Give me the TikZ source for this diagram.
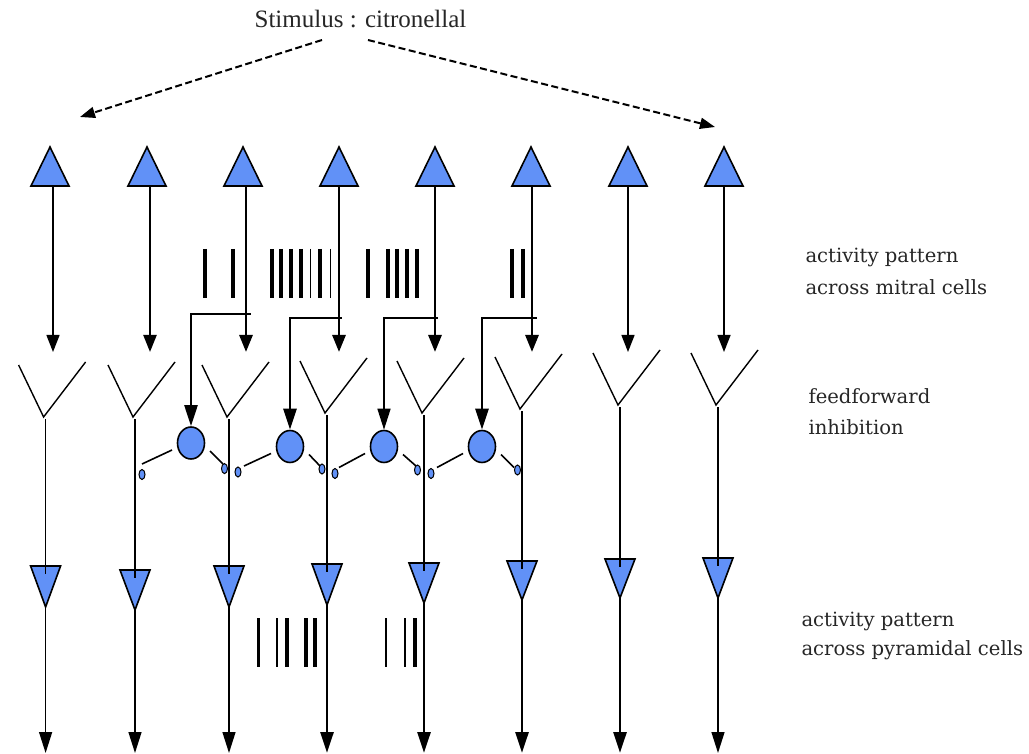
\documentclass[tikz,border=0pt]{standalone}
\usepackage{fontspec}
\setmainfont{DejaVu Serif}
\newfontfamily\stimfont{Liberation Serif}
\usetikzlibrary{arrows.meta,shapes.geometric,calc}
\definecolor{cellblue}{HTML}{6191F7}
\begin{document}
\begin{tikzpicture}[x=1pt,y=-1pt,
  arr/.style={-{Triangle[length=17pt,width=13pt]}},
  botarr/.style={-{Triangle[length=21pt,width=13pt]}},
  inarr/.style={-{Triangle[length=21pt,width=13pt]}},
  cellfill/.style={fill=cellblue,draw=black,line width=1.6pt,line join=miter},
  dend/.style={line width=1.4pt},
  spike/.style={line width=#1},
  dasharr/.style={line width=2pt,dash pattern=on 7pt off 3.5pt,-{Triangle[length=15pt,width=11pt]}},
  lbl/.style={anchor=base west,font=\fontsize{19.6}{20}\selectfont,text=black!85}]
\useasboundingbox (0,0) rectangle (1029,754);

% stimulus
\node[anchor=base,font=\stimfont\fontsize{25}{25}\selectfont,text=black!85,inner sep=0] (stim) at (360.5,28) {Stimulus : citronellal};
\coordinate (sl) at (322,40);
\coordinate (sr) at (368,40);
\coordinate (dl) at (80,117);
\coordinate (dr) at (715,127);
\draw[dasharr] (sl) -- (dl);
\draw[dasharr] (sr) -- (dr);

% mitral cells
\foreach \i/\tx/\sx/\w in {1/50/53/1.4, 2/147/150/2.3, 3/243/246/2.8, 4/339/339/2.8, 5/435/435/2.8, 6/531/532/2.8, 7/628/628/1.4, 8/724/724/1.4}{
  \coordinate (mt\i) at (\sx,186);
  \coordinate (ma\i) at (\sx,352);
  \draw[arr,line width=\w pt] (mt\i) -- (ma\i);
  \filldraw[cellfill] (\tx-19,186) -- (\tx,147) -- (\tx+19,186) -- cycle;
}

% mitral spike trains
\foreach \x/\w in {205/3.5, 233/3.5, 272/3.5, 281/3.5, 291/3.5, 301/3.5, 310.5/1.8, 320/3.5, 330.5/1.8, 368/3.5, 388/3.5, 397/3.5, 407/3.5, 417/3.5, 512/3.5, 523/3.5}{
  \draw[spike=\w pt] (\x,249) -- (\x,298);
}

% pyramidal cells with dendrites
\foreach \i/\px/\jy/\top/\apex/\w in {1/45.6/417/566/607/1.4, 2/135/417/570/610/1.4, 3/229/417/566/607/1.4, 4/327/413/564/605/2.8, 5/424/413/563/603/2.8, 6/522/409/561/600/2.8, 7/620/405/559/598/2.8, 8/718/405/558/598/1.4}{
  \coordinate (y\i) at (\px-2,\jy);
  \draw[dend] ($(y\i)+(-25,-52)$) -- (y\i) -- ($(y\i)+(42,-55)$);
  \coordinate (ys\i) at (\px,\jy+2);
  \coordinate (pt\i) at (\px,\top+8);
  \coordinate (pa\i) at (\px,\apex);
  \coordinate (pb\i) at (\px,753);
  \filldraw[cellfill] (\px-15,\top) -- (\px+15,\top) -- (pa\i) -- cycle;
  \draw[line width=\w pt] (ys\i) -- (pt\i);
  \draw[botarr,line width=\w pt] (pa\i) -- (pb\i);
}

% pyramidal spike trains
\foreach \x/\w in {258.6/3.5, 277/1.8, 287/3.5, 306/3.5, 315/3.5, 386/1.2, 405/1.8, 415/3.5}{
  \draw[spike=\w pt] (\x,618) -- (\x,667);
}

% interneurons (feedforward inhibition)
\foreach \k/\cx/\cy/\mx/\hy/\hw/\vw/\lx/\ly/\lex/\ley/\rx/\ry/\rex/\rey in {
  1/191/443/250/314/1.5/2.3/142/464/142/474.5/223/464/224.5/468.6,
  2/290/446.5/341/318/2.8/2.8/244/466/238/472/320/466/322/469,
  3/384/446.5/437/318/2.8/1.5/339/467.5/335/473.5/416/466/417.5/470,
  4/482/446.5/536/318/2.8/2.8/437/467.5/431/473.5/514/467.5/517.5/470}{
  \node[cellfill,ellipse,minimum width=27pt,minimum height=32pt,inner sep=0] (in\k) at (\cx,\cy) {};
  \coordinate (h\k) at (\mx,\hy);
  \coordinate (c\k) at (\cx,\hy);
  \draw[line width=\hw pt,line cap=rect] (h\k) -- (c\k);
  \draw[inarr,line width=\vw pt] (c\k) -- (in\k.north);
  \node[cellfill,ellipse,line width=1pt,minimum width=6pt,minimum height=10pt,inner sep=0] (sl\k) at (\lex,\ley) {};
  \node[cellfill,ellipse,line width=1pt,minimum width=6pt,minimum height=10pt,inner sep=0] (sr\k) at (\rex,\rey) {};
  \coordinate (ls\k) at (\cx-19,\cy+7);
  \coordinate (le\k) at (\lx,\ly);
  \coordinate (rs\k) at (\cx+19,\cy+8);
  \coordinate (re\k) at (\rx,\ry);
  \draw[line width=1.6pt] (ls\k) -- (le\k);
  \draw[line width=1.6pt] (rs\k) -- (re\k);
}

% labels
\node[lbl] (a1) at (802,263) {activity pattern};
\node[lbl] (a2) at (802,295) {across mitral cells};
\node[lbl] (f1) at (805,403) {feedforward};
\node[lbl] (f2) at (805,434) {inhibition};
\node[lbl] (p1) at (798,626) {activity pattern};
\node[lbl] (p2) at (798,655) {across pyramidal cells};
\end{tikzpicture}
\end{document}
